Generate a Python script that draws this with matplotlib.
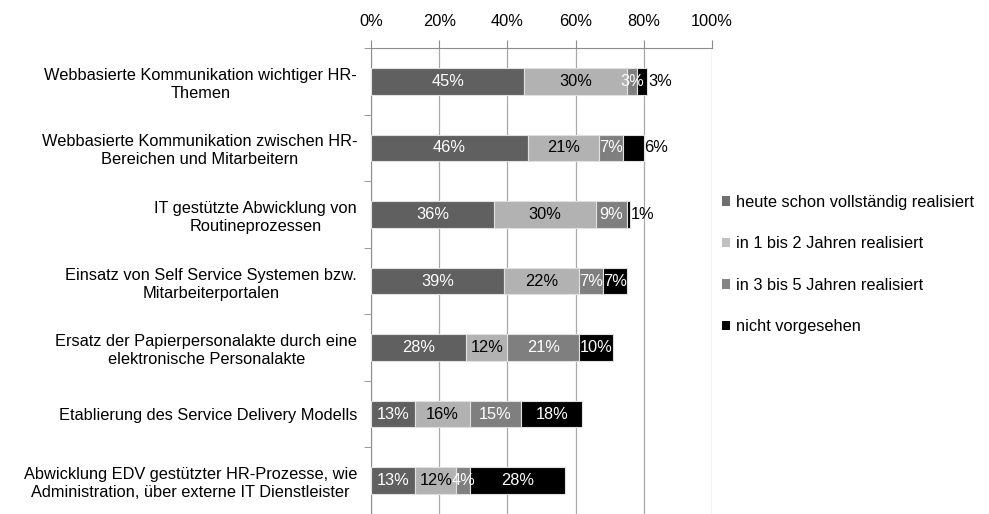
import matplotlib
matplotlib.use("Agg")
import matplotlib.pyplot as plt
from matplotlib.patches import Patch

plt.rcParams['font.family'] = ['Liberation Sans', 'DejaVu Sans']

categories = [
    "Webbasierte Kommunikation wichtiger HR-\nThemen",
    "Webbasierte Kommunikation zwischen HR-\nBereichen und Mitarbeitern",
    "IT gestützte Abwicklung von\nRoutineprozessen",
    "Einsatz von Self Service Systemen bzw.\nMitarbeiterportalen",
    "Ersatz der Papierpersonalakte durch eine\nelektronische Personalakte",
    "Etablierung des Service Delivery Modells",
    "Abwicklung EDV gestützter HR-Prozesse, wie\nAdministration, über externe IT Dienstleister",
]
series_names = [
    "heute schon vollständig realisiert",
    "in 1 bis 2 Jahren realisiert",
    "in 3 bis 5 Jahren realisiert",
    "nicht vorgesehen",
]
heute = [45, 46, 36, 39, 28, 13, 13]
jahre_1_2 = [30, 21, 30, 22, 12, 16, 12]
jahre_3_5 = [3, 7, 9, 7, 21, 15, 4]
nicht = [3, 6, 1, 7, 10, 18, 28]

series = [heute, jahre_1_2, jahre_3_5, nicht]
colors = ["#606060", "#b2b2b2", "#7f7f7f", "#000000"]
text_colors = ["white", "black", "white", "white"]
legend_colors = ["#707070", "#c0c0c0", "#858585", "#000000"]

fs = 11.8

fig = plt.figure(figsize=(9.89, 5.14), dpi=100)
ax = fig.add_axes([371 / 989, 0.0, 341 / 989, 1 - 48 / 514])

y = list(range(len(categories)))
left = [0] * len(categories)
for k, vals in enumerate(series):
    ax.barh(y, vals, left=left, height=0.4, color=colors[k],
            edgecolor="#e0e0e0", linewidth=0.8, zorder=3)
    for i, v in enumerate(vals):
        if k == 3 and v <= 6:
            # small last segments get their label just right of the bar
            ax.text(left[i] + v + 0.2, i, f"{v}%", ha="left", va="center",
                    fontsize=fs, color="black", zorder=4)
        else:
            ax.text(left[i] + v / 2, i, f"{v}%", ha="center", va="center",
                    fontsize=fs, color=text_colors[k], zorder=4)
    left = [a + b for a, b in zip(left, vals)]

ax.set_xlim(0, 100)
ax.set_ylim(6.5, -0.5)
ax.xaxis.tick_top()
ax.set_xticks(range(0, 101, 20))
ax.set_xticklabels([f"{t}%" for t in range(0, 101, 20)], fontsize=fs)
ax.tick_params(axis="x", length=6, color="#8c8c8c", pad=8)
ax.grid(axis="x", color="#a8a8a8", linewidth=0.9, zorder=0)

ax.set_yticks(y)
ax.set_yticklabels(categories, fontsize=fs, linespacing=1.25,
                   multialignment="center")
ax.tick_params(axis="y", length=0, pad=10)
ax.set_yticks([i + 0.5 for i in range(-1, len(categories) - 1)], minor=True)
ax.tick_params(axis="y", which="minor", length=5, color="#8c8c8c")

for side in ["right", "bottom"]:
    ax.spines[side].set_visible(False)
ax.spines["left"].set_color("#8c8c8c")
ax.spines["top"].set_color("#8c8c8c")

handles = [Patch(facecolor=c, edgecolor="none") for c in legend_colors]
fig.legend(handles, series_names, loc="upper left",
           bbox_to_anchor=(707 / 989, 1 - 180 / 514), frameon=False,
           fontsize=fs, handlelength=0.5, handleheight=0.5,
           handletextpad=0.4, labelspacing=1.62)

fig.savefig("out.png", dpi=100)
